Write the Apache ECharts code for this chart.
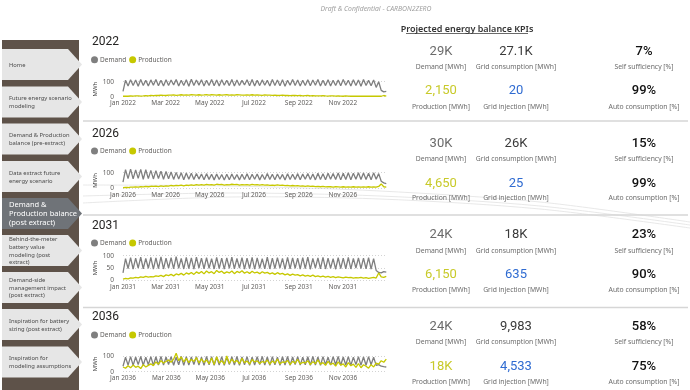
<!DOCTYPE html>
<html><head><meta charset="utf-8">
<script src="https://cdn.jsdelivr.net/npm/echarts@6/dist/echarts.min.js"></script>
<style>html,body{margin:0;padding:0;background:#fff}#c{width:690px;height:390px}</style>
</head><body><div id="c"></div>
<script>
// ---------------- DATA ----------------
const years = [2022, 2026, 2031, 2036];
const monthTicks = ['Jan', 'Mar', 'May', 'Jul', 'Sep', 'Nov'];
const monthNames = ['Jan','Feb','Mar','Apr','May','Jun','Jul','Aug','Sep','Oct','Nov','Dec'];

// semi-weekly readings (MWh), Jan 1 -> Dec 31
const demand2022 = [35,110,72,113,74,111,70,115,75,109,72,112,76,114,73,110,71,113,74,111,78,115,72,109,75,113,70,116,74,111,77,113,72,109,75,115,73,111,71,113,76,110,74,114,72,111,75,109,78,113,73,115,71,110,74,112,76,109,72,114,75,111,73,113,70,110,77,115,74,111,72,109,75,113,73,111,76,115,72,110,74,113,71,109,75,112,73,115,76,110,72,113,74,111,70,114,75,109,73,112,62,100,42,32,35];
const production2022 = [3,4,3,5,4,5,6,4,5,7,6,8,7,9,8,10,9,8,11,10,12,9,11,13,10,12,11,13,12,10,13,11,12,14,11,13,12,10,13,11,12,13,10,12,11,13,12,11,10,12,11,13,10,12,11,9,12,10,11,9,10,8,9,10,8,9,7,8,9,7,8,6,7,8,6,7,5,6,5,7,5,4,6,5,4,5,4,3,5,4,3,4,3,4,3,4,3,4,3,4,3,4,3,8,4];

const demand2026 = [40,120,62,123,60,118,64,121,58,119,62,115,60,113,63,110,58,108,61,104,57,102,60,100,55,98,58,96,56,95,59,92,55,94,57,90,54,92,56,88,53,90,55,92,57,88,54,90,56,94,55,90,58,92,54,88,56,95,57,90,55,92,58,89,54,93,56,90,57,94,55,91,58,95,56,92,54,96,57,93,55,97,58,95,56,98,54,96,57,99,55,97,58,100,56,98,57,96,55,99,58,94,45,35,30];
const production2026 = [4,6,5,8,7,9,8,10,9,12,10,13,12,14,11,15,13,16,14,18,15,19,17,20,16,21,18,22,19,24,20,23,21,25,22,24,20,26,23,25,21,24,22,26,23,25,21,24,22,23,20,25,22,24,21,23,20,22,19,21,18,22,19,20,17,19,16,18,15,17,14,16,13,15,12,14,11,13,10,12,9,11,10,8,10,9,8,10,7,9,8,10,7,9,8,9,7,10,8,9,7,12,28,10,8];

const demand2031 = [30,88,48,92,46,90,50,94,47,89,49,93,45,91,48,95,46,90,50,92,47,96,49,89,46,93,48,91,45,94,50,90,47,92,49,88,46,93,48,90,45,91,49,94,47,89,50,92,46,90,48,93,45,91,49,88,47,94,46,90,48,92,50,89,45,93,47,91,49,90,46,92,48,94,45,89,50,91,47,93,46,90,49,88,45,92,48,90,47,93,46,89,50,91,48,90,47,92,46,88,40,32,30,35,33];
const production2031 = [5,8,6,10,9,12,10,14,12,16,13,15,14,18,16,20,15,22,19,24,18,26,22,28,21,30,25,32,24,34,28,36,26,38,30,35,27,40,32,37,28,34,30,38,27,36,31,39,29,35,28,37,30,33,27,35,29,32,26,30,24,31,25,28,22,26,20,25,21,23,18,22,17,20,16,21,15,18,14,17,13,16,12,15,11,14,12,10,13,11,12,9,11,10,12,9,11,8,10,12,9,30,14,12,16];

const demand2036 = [35,92,42,96,40,94,45,97,41,93,44,96,40,95,43,98,42,94,46,96,41,93,44,97,40,95,43,94,45,96,42,93,40,97,44,95,41,94,43,96,40,92,45,95,42,97,41,94,44,96,40,93,43,95,45,97,42,94,40,96,44,93,41,95,43,97,40,94,45,96,42,93,44,95,41,97,43,94,40,96,45,93,42,95,44,97,41,94,43,96,40,93,45,95,42,94,41,96,44,93,40,45,35,32,30];
const production2036 = [30,22,38,25,42,28,35,20,45,30,40,50,38,62,48,70,55,65,75,60,80,118,70,95,62,85,58,78,65,90,55,82,60,75,50,88,45,95,55,70,48,100,52,80,60,72,50,85,58,68,48,78,62,70,52,65,58,74,48,68,55,80,50,62,58,72,46,66,54,78,50,60,56,70,45,64,52,75,48,58,40,66,46,55,36,62,42,50,30,58,38,48,28,52,25,44,35,22,45,30,55,48,70,60,80];

const demandSeries = [demand2022, demand2026, demand2031, demand2036];
const productionSeries = [production2022, production2026, production2031, production2036];

// KPI values
const kpiDemand = ['29K', '30K', '24K', '24K'];
const kpiProduction = ['2,150', '4,650', '6,150', '18K'];
const kpiGridConsumption = ['27.1K', '26K', '18K', '9,983'];
const kpiGridInjection = ['20', '25', '635', '4,533'];
const kpiSelfSufficiency = ['7%', '15%', '23%', '58%'];
const kpiAutoConsumption = ['99%', '99%', '90%', '75%'];

const navItems = [
  'Home',
  'Future energy scenario\nmodeling',
  'Demand & Production\nbalance (pre-extract)',
  'Data extract future\nenergy scenario',
  'Demand &\nProduction balance\n(post extract)',
  'Behind-the-meter\nbattery value\nmodeling (post\nextract)',
  'Demand-side\nmanagement impact\n(post extract)',
  'Inspiration for battery\nsizing (post extract)',
  'Inspiration for\nmodeling assumptions'
];
const activeNav = 4;

// ---------------- LAYOUT ----------------
const panelGrid = [
  {top: 81.7, height: 15, interval: 100, title: 44, legend: 60.7},
  {top: 172.7, height: 15.6, interval: 100, title: 136, legend: 152},
  {top: 255.7, height: 24.6, interval: 50, title: 228, legend: 244},
  {top: 356, height: 15.7, interval: 100, title: 319, legend: 336}
];
const kpiRows = [
  {v1: 51.7, l1: 67, v2: 90.7, l2: 107},
  {v1: 143.3, l1: 158.7, v2: 183.3, l2: 198.5},
  {v1: 234.3, l1: 250.7, v2: 274.3, l2: 290.3},
  {v1: 326.7, l1: 342.3, v2: 366.7, l2: 382}
];
const navTops = [49, 86.5, 123.5, 161, 198, 235, 272, 309, 346.5];

const C_DEMAND = '#7f7f7f';
const C_PROD = '#c6c800';
const titleFont = 'Roboto, "DejaVu Sans", sans-serif';
const uiFont = '"Segoe UI", "Noto Sans", "Open Sans", sans-serif';

const chart = echarts.init(document.getElementById('c'), null, {renderer: 'canvas'});

const DAY = 86400000;
function dayOfYear(year, month) {
  return (Date.UTC(year, month, 1) - Date.UTC(year, 0, 1)) / DAY;
}
function yearLength(year) { return (Date.UTC(year + 1, 0, 1) - Date.UTC(year, 0, 1)) / DAY; }
function toPoints(arr, year) {
  const step = (yearLength(year) - 1) / (arr.length - 1);
  return arr.map((v, i) => [i * step, v]);
}
function labelFor(year, day) {
  const d = new Date(Date.UTC(year, 0, 1) + Math.round(day) * DAY);
  return monthNames[d.getUTCMonth()] + ' ' + d.getUTCFullYear();
}

const grid = [], xAxis = [], yAxis = [], series = [], legend = [], title = [];
years.forEach((y, k) => {
  const g = panelGrid[k];
  grid.push({left: 123, width: 264, top: g.top, height: g.height, containLabel: false});
  xAxis.push({
    type: 'value', gridIndex: k,
    min: 0, max: yearLength(y),
    axisLine: {show: false}, axisTick: {show: false}, splitLine: {show: false},
    axisLabel: {
      customValues: monthTicks.map(m => dayOfYear(y, monthNames.indexOf(m))),
      formatter: v => labelFor(y, v),
      fontSize: 6.5, color: '#605e5c', margin: 3, fontFamily: uiFont
    }
  });
  yAxis.push({
    type: 'value', gridIndex: k, min: 0, max: 100, interval: g.interval,
    name: 'MWh', nameLocation: 'middle', nameRotate: 90, nameGap: 25,
    nameTextStyle: {fontSize: 6, color: '#444', fontFamily: uiFont},
    axisLine: {show: false}, axisTick: {show: false},
    axisLabel: {fontSize: 6.5, color: '#605e5c', margin: 9, fontFamily: uiFont},
    splitLine: {show: true, lineStyle: {type: [1, 2], color: '#c8c8c8', width: 0.8}}
  });
  series.push({
    name: 'Demand', type: 'line', xAxisIndex: k, yAxisIndex: k, clip: false,
    data: toPoints(demandSeries[k], y), showSymbol: false, symbol: 'none',
    lineStyle: {color: C_DEMAND, width: 1.3}, itemStyle: {color: C_DEMAND}
  });
  series.push({
    name: 'Production', type: 'line', xAxisIndex: k, yAxisIndex: k, clip: false,
    data: toPoints(productionSeries[k], y), showSymbol: false, symbol: 'none',
    lineStyle: {color: C_PROD, width: 1.3}, itemStyle: {color: C_PROD}
  });
  legend.push({
    data: ['Demand', 'Production'], left: 91, top: g.legend - 4.5, icon: 'circle',
    itemWidth: 7, itemHeight: 7, itemGap: 3, padding: 0,
    textStyle: {fontSize: 6.5, color: '#605e5c', fontFamily: uiFont, padding: [0, 0, 0, -3]}
  });
  title.push({
    text: String(y), left: 92, top: g.title - 8, padding: 0,
    textStyle: {fontSize: 12, fontWeight: 'normal', color: '#252423', fontFamily: titleFont}
  });
});

// ---------------- GRAPHICS ----------------
const graphic = [];
graphic.push({type: 'rect', shape: {x: 2, y: 40, width: 77, height: 350}, style: {fill: '#5e5249'}, z: 1});
navItems.forEach((t, i) => {
  const top = navTops[i], h = 31;
  const active = i === activeNav;
  graphic.push({
    type: 'polygon', z: 2,
    shape: {points: [[2, top], [68, top], [82, top + h / 2], [68, top + h], [2, top + h]]},
    style: {fill: active ? '#6f7378' : '#e6e6e6'}
  });
  graphic.push({
    type: 'text', z: 3,
    style: {
      text: t, x: 9, y: top + h / 2 + 0.5, align: 'left', verticalAlign: 'middle',
      fill: active ? '#ffffff' : '#4a4a4a',
      font: (active ? '7.5px ' : '5.8px ') + uiFont,
      lineHeight: active ? 9 : 7.8
    }
  });
});

// separators
[121, 215, 307.5].forEach(y => {
  graphic.push({type: 'line', shape: {x1: 83, y1: y, x2: 688, y2: y}, style: {stroke: '#d6d6d6', lineWidth: 1.5}, z: 1});
});

// faint overlay lines
[[[83, 185], [230, 186], [380, 191], [540, 202], [690, 222]],
 [[83, 196], [230, 193], [380, 196], [540, 206], [690, 225]],
 [[83, 203], [230, 197], [380, 199], [540, 209], [690, 228]]].forEach(pts => {
  graphic.push({type: 'polyline', shape: {points: pts, smooth: 0.3}, style: {stroke: '#e2e2e2', lineWidth: 0.8, fill: null}, z: 0});
});

// header
graphic.push({type: 'text', style: {text: 'Draft & Confidential - CARBON2ZERO', x: 376, y: 9, align: 'center', verticalAlign: 'middle', fill: '#a0a0a0', font: 'italic 6.8px ' + uiFont}});
graphic.push({type: 'text', style: {text: 'Projected energy balance KPIs', x: 467, y: 29, align: 'center', verticalAlign: 'middle', fill: '#333333', font: '600 9px ' + uiFont}});
graphic.push({type: 'line', shape: {x1: 406, y1: 33.5, x2: 528, y2: 33.5}, style: {stroke: '#444', lineWidth: 0.8}});

function kpiText(text, x, y, color, font) {
  graphic.push({type: 'text', z: 5, style: {text, x, y, align: 'center', verticalAlign: 'middle', fill: color, font}});
}
const valFont = '13px ' + titleFont;
const valFontB = '500 13px ' + titleFont;
const lblFont = '6.8px ' + uiFont;
kpiRows.forEach((r, k) => {
  kpiText(kpiDemand[k], 441, r.v1, '#6b6b6b', valFont);
  kpiText('Demand [MWh]', 441, r.l1, '#6b6b6b', lblFont);
  kpiText(kpiProduction[k], 441, r.v2, '#c8ca2a', valFont);
  kpiText('Production [MWh]', 441, r.l2, '#6b6b6b', lblFont);
  kpiText(kpiGridConsumption[k], 516, r.v1, '#3a3a3a', valFont);
  kpiText('Grid consumption [MWh]', 516, r.l1, '#6b6b6b', lblFont);
  kpiText(kpiGridInjection[k], 516, r.v2, '#2f6bd1', valFont);
  kpiText('Grid injection [MWh]', 516, r.l2, '#6b6b6b', lblFont);
  kpiText(kpiSelfSufficiency[k], 644, r.v1, '#111111', valFontB);
  kpiText('Self sufficiency [%]', 644, r.l1, '#6b6b6b', lblFont);
  kpiText(kpiAutoConsumption[k], 644, r.v2, '#111111', valFontB);
  kpiText('Auto consumption [%]', 644, r.l2, '#6b6b6b', lblFont);
});

chart.setOption({
  animation: false,
  backgroundColor: '#ffffff',
  title, legend, grid, xAxis, yAxis, series, graphic
});
</script></body></html>
